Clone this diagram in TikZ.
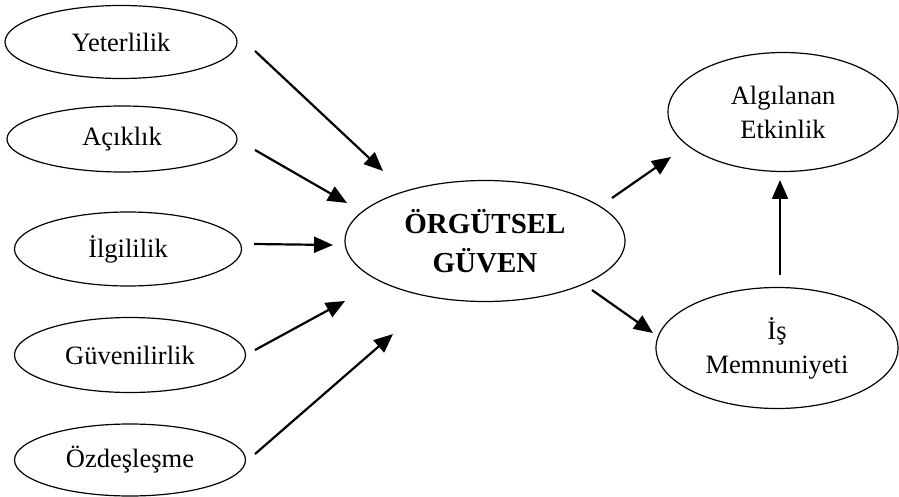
\documentclass[tikz,border=0pt]{standalone}
\usepackage{fontspec}
\setmainfont{Liberation Serif}
\usetikzlibrary{shapes.geometric,arrows.meta}
\tikzset{
  oval/.style={ellipse, draw, line width=1.2pt, inner sep=0pt, align=center,
    font=\fontsize{26.5}{34}\selectfont},
  bigoval/.style={oval, font=\fontsize{29}{39}\selectfont\bfseries},
  arr/.style={line width=2.2pt, -{Triangle[length=19pt,width=16pt]}}
}
\begin{document}
\begin{tikzpicture}[x=1pt,y=-1pt]
\useasboundingbox (0,0) rectangle (899,497);
% left ovals
\node[oval, minimum width=232pt, minimum height=73pt] (yet) at (121,42) {Yeterlilik};
\node[oval, minimum width=230pt, minimum height=66pt] (aci) at (122,139) {Açıklık};
\node[oval, minimum width=227pt, minimum height=74pt] (ilg) at (128,249) {İlgililik};
\node[oval, minimum width=231pt, minimum height=75pt] (guv) at (130,355) {Güvenilirlik};
\node[oval, minimum width=231pt, minimum height=72pt] (ozd) at (130,460) {Özdeşleşme};
% centre
\node[bigoval, minimum width=280pt, minimum height=121pt] (org) at (485,241) {ÖRGÜTSEL\\GÜVEN};
% right
\node[oval, minimum width=230pt, minimum height=119pt] (alg) at (783,112) {Algılanan\\Etkinlik};
\node[oval, minimum width=242pt, minimum height=121pt] (is) at (777,348) {İş\\Memnuniyeti};
% arrow end points
\coordinate (yetS) at (255,51);  \coordinate (yetT) at (383,171);
\coordinate (aciS) at (255,150); \coordinate (aciT) at (347,203);
\coordinate (ilgS) at (254,244); \coordinate (ilgT) at (333,245);
\coordinate (guvS) at (255,350); \coordinate (guvT) at (345,301);
\coordinate (ozdS) at (255,454); \coordinate (ozdT) at (393,334);
\coordinate (orgA) at (612,198); \coordinate (algT) at (671,157);
\coordinate (orgB) at (592,290); \coordinate (isT) at (653,333);
\coordinate (isS) at (780,275);  \coordinate (algB) at (780,180);
% arrows
\draw[arr] (yetS) -- (yetT);
\draw[arr] (aciS) -- (aciT);
\draw[arr] (ilgS) -- (ilgT);
\draw[arr] (guvS) -- (guvT);
\draw[arr] (ozdS) -- (ozdT);
\draw[arr] (orgA) -- (algT);
\draw[arr] (orgB) -- (isT);
\draw[arr] (isS) -- (algB);
\end{tikzpicture}
\end{document}
